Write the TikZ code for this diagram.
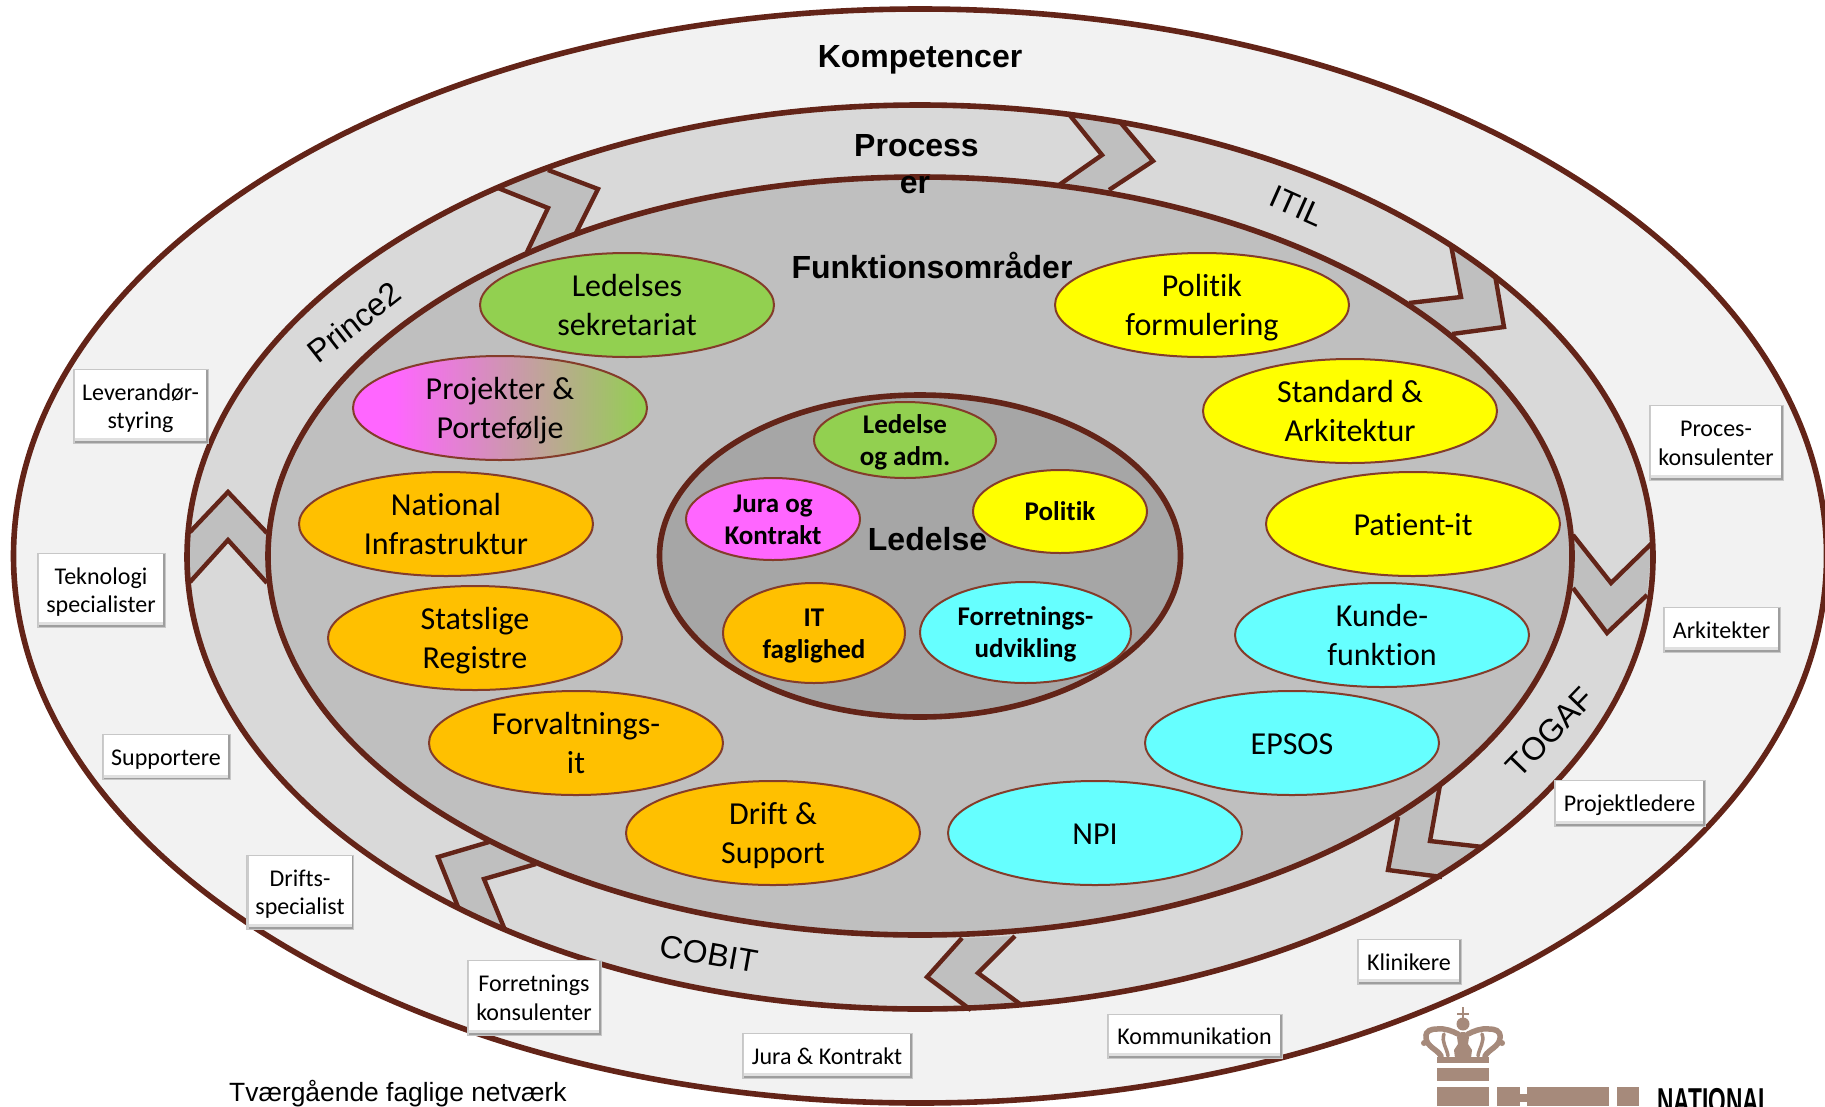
\documentclass[tikz,border=0pt]{standalone}
\usepackage{fontspec}
\usetikzlibrary{shapes.geometric}
\setmainfont{Carlito}[Ligatures=CommonOff]
\newfontfamily\arialfont{Liberation Sans}
\definecolor{brownline}{HTML}{632418}
\definecolor{thinline}{HTML}{843C2A}
\definecolor{ringA}{HTML}{F2F2F2}
\definecolor{ringB}{HTML}{D9D9D9}
\definecolor{ringC}{HTML}{BFBFBF}
\definecolor{ringD}{HTML}{A6A6A6}
\definecolor{cgreen}{HTML}{92D050}
\definecolor{corange}{HTML}{FFC000}
\definecolor{cyellow}{HTML}{FFFF00}
\definecolor{ccyan}{HTML}{66FFFF}
\definecolor{cmagenta}{HTML}{FF66FF}
\definecolor{logotan}{HTML}{A68A7B}
\pgfdeclarehorizontalshading{pgmix}{100bp}{color(0bp)=(cmagenta); color(32bp)=(cmagenta); color(75bp)=(cgreen); color(100bp)=(cgreen)}
% text set at fixed baselines round the node centre
\newcommand{\onel}[1]{\makebox[0pt]{\raisebox{\dimexpr-\boff\relax}[0pt][0pt]{#1}}}
\newcommand{\twol}[2]{\makebox[0pt]{\raisebox{\dimexpr-\boff+\lhalf\relax}[0pt][0pt]{#1}}\makebox[0pt]{\raisebox{\dimexpr-\boff-\lhalf\relax}[0pt][0pt]{#2}}}
\tikzset{
  bigring/.style={ellipse,inner sep=0,draw=brownline,line width=5.6pt},
  chevfill/.style={fill=ringC},
  chevline/.style={draw=brownline,line width=4.4pt,line join=miter},
  area/.style={ellipse,inner sep=0,draw=thinline,line width=2pt,minimum width=294pt,minimum height=104pt,font={\fontsize{32}{39}\selectfont\def\boff{11pt}\def\lhalf{19.75pt}}},
  core/.style={ellipse,inner sep=0,draw=thinline,line width=2pt,font={\bfseries\fontsize{27}{32}\selectfont\def\boff{9pt}\def\lhalf{16pt}}},
  headtext/.style={anchor=base,font=\arialfont\bfseries\fontsize{32}{38}\selectfont},
  ringtext/.style={font=\arialfont\fontsize{32}{38}\selectfont},
  rolebox/.style={rectangle,inner sep=0,fill=white,draw=black!22,line width=.8pt,font={\fontsize{24}{29}\selectfont\def\boff{8.5pt}\def\lhalf{14.25pt}},
    path picture={
      \fill[black!12] (path picture bounding box.south west) rectangle ([yshift=5pt]path picture bounding box.south east);
      \fill[black!38] (path picture bounding box.south west) rectangle ([yshift=2pt]path picture bounding box.south east);
      \fill[black!38] (path picture bounding box.south east) rectangle ([xshift=-2pt]path picture bounding box.north east);
      \fill[black!20] (path picture bounding box.south west) rectangle ([xshift=2pt]path picture bounding box.north west);
    }},
  logopart/.style={fill=logotan,draw=none},
  logostroke/.style={draw=logotan,line width=5pt,line cap=round}
}
% a chevron: two three-point polylines across the ring
\newcommand{\chevron}[6]{%
  \fill[chevfill] #1 -- #2 -- #3 -- #6 -- #5 -- #4 -- cycle;
  \draw[chevline] #1 -- #2 -- #3;
  \draw[chevline] #4 -- #5 -- #6;
}
\begin{document}
\begin{tikzpicture}[x=1pt,y=-1pt]
\useasboundingbox (0,0) rectangle (1825,1106);
\fill[white] (0,0) rectangle (1825,1106);

\node[bigring,fill=ringA,minimum width=1813pt,minimum height=1094pt] (kompetencer) at (920,556) {};
\node[bigring,fill=ringB,draw=none,minimum width=1466pt,minimum height=904pt] (processer) at (920,557) {};

\chevron{(1068,113)}{(1102,155)}{(1059,185)}{(1120,122)}{(1153,161)}{(1109,190)}
\chevron{(1451,245)}{(1461,297)}{(1409,303)}{(1495,275)}{(1504,327)}{(1452,334)}
\chevron{(1652,543)}{(1611,583)}{(1573,535)}{(1647,595)}{(1607,633)}{(1573,588)}
\chevron{(1440,785)}{(1430,841)}{(1483,847)}{(1398,817)}{(1388,870)}{(1442,877)}
\chevron{(1015,936)}{(978,973)}{(1020,1004)}{(962,938)}{(927,977)}{(971,1010)}
\chevron{(536,864)}{(484,879)}{(505,930)}{(489,842)}{(438,857)}{(458,907)}
\chevron{(190,532)}{(228,492)}{(267,533)}{(190,582)}{(228,540)}{(267,583)}
\chevron{(498,188)}{(548,208)}{(527,252)}{(548,170)}{(598,189)}{(575,235)}

\node[bigring,minimum width=1466pt,minimum height=904pt] (processring) at (920,557) {};
\node[bigring,fill=ringC,minimum width=1304pt,minimum height=758pt] (funktioner) at (920,556) {};
\node[bigring,fill=ringD,minimum width=521pt,minimum height=322pt] (ledelsering) at (920,556) {};

% functional areas
\node[area,fill=cgreen] (a1) at (627,305) {\twol{Ledelses}{sekretariat}};
\node[area,fill=cyellow] (a2) at (1202,305) {\twol{Politik}{formulering}};
\node[area,shade,shading=pgmix] (a3) at (500,408) {\twol{Projekter \&}{Portefølje}};
\node[area,fill=cyellow] (a4) at (1350,411) {\twol{Standard \&}{Arkitektur}};
\node[area,fill=corange] (a5) at (446,524) {\twol{National}{Infrastruktur}};
\node[area,fill=cyellow] (a6) at (1413,524) {\onel{Patient-it}};
\node[area,fill=corange] (a7) at (475,638) {\twol{Statslige}{Registre}};
\node[area,fill=ccyan] (a8) at (1382,635) {\twol{Kunde-}{funktion}};
\node[area,fill=corange] (a9) at (576,743) {\twol{Forvaltnings-}{it}};
\node[area,fill=ccyan] (a10) at (1292,743) {\onel{EPSOS}};
\node[area,fill=corange] (a11) at (773,833) {\twol{Drift \&}{Support}};
\node[area,fill=ccyan] (a12) at (1095,833) {\onel{NPI}};

% core
\node[headtext] (ledelsehead) at (927.5,550) {Ledelse};
\node[core,fill=cgreen,minimum width=182pt,minimum height=76pt] (c1) at (905,440) {\twol{Ledelse}{og adm.}};
\node[core,fill=cmagenta,minimum width=174pt,minimum height=82pt] (c2) at (773,519) {\twol{Jura og}{Kontrakt}};
\node[core,fill=cyellow,minimum width=174pt,minimum height=83pt] (c3) at (1060,511.5) {\onel{Politik}};
\node[core,fill=corange,minimum width=182pt,minimum height=100pt] (c4) at (814,633) {\twol{IT}{faglighed}};
\node[core,fill=ccyan,minimum width=211pt,minimum height=101pt] (c5) at (1025.5,632.5) {\twol{Forretnings-}{udvikling}};

% headings
\node[headtext] (h1) at (920,67) {Kompetencer};
\node[headtext] (h2a) at (916.5,156) {Process};
\node[headtext] (h2b) at (915,193) {er};
\node[headtext] (h3) at (932,278) {Funktionsområder};

% ring labels
\node[ringtext,rotate=-24] (itil) at (1297,206) {ITIL};
\node[ringtext,rotate=46] (togaf) at (1550,732) {TOGAF};
\node[ringtext,rotate=-10] (cobit) at (709,954) {COBIT};
\node[ringtext,rotate=38] (prince) at (354,322) {Prince2};

% role boxes
\node[rolebox,minimum width=135pt,minimum height=74pt] (b1) at (140.5,406) {\twol{Leverandør-}{styring}};
\node[rolebox,minimum width=128pt,minimum height=74pt] (b2) at (101,590) {\twol{Teknologi}{specialister}};
\node[rolebox,minimum width=128pt,minimum height=45pt] (b3) at (166,757) {\onel{Supportere}};
\node[rolebox,minimum width=107pt,minimum height=74pt] (b4) at (300,892) {\twol{Drifts-}{specialist}};
\node[rolebox,minimum width=134pt,minimum height=75pt] (b5) at (534,997.5) {\twol{Forretnings}{konsulenter}};
\node[rolebox,minimum width=170pt,minimum height=45pt] (b6) at (827,1055.5) {\onel{Jura \& Kontrakt}};
\node[rolebox,minimum width=175pt,minimum height=44pt] (b7) at (1194.5,1036) {\onel{Kommunikation}};
\node[rolebox,minimum width=104pt,minimum height=45pt] (b8) at (1409,961.5) {\onel{Klinikere}};
\node[rolebox,minimum width=151pt,minimum height=46pt] (b9) at (1629.5,803) {\onel{Projektledere}};
\node[rolebox,minimum width=117pt,minimum height=45pt] (b10) at (1721.5,629.5) {\onel{Arkitekter}};
\node[rolebox,minimum width=134pt,minimum height=75pt] (b11) at (1716,442.5) {\twol{Proces-}{konsulenter}};

% caption
\node[anchor=base west,inner sep=0,font=\arialfont\fontsize{26.4}{30}\selectfont] (caption) at (229,1101) {Tværgående faglige netværk};

% logo: crown
\fill[logopart] (1437,1057) rectangle (1489,1063);
\fill[logopart] (1463,1024) circle (6.5);
\draw[logostroke,line width=2.4pt,line cap=butt] (1463,1007) -- (1463,1019) (1457,1014) -- (1469,1014);
\fill[logopart] (1455,1058) -- (1454,1050) -- (1458,1044) -- (1457,1037) -- (1461,1032) -- (1465,1032) -- (1469,1037) -- (1468,1044) -- (1472,1050) -- (1471,1058) -- cycle;
\draw[logostroke,line width=5.5pt] (1441,1056) .. controls (1437,1049) and (1427,1047) .. (1426,1038) .. controls (1425,1030) and (1432,1029) .. (1437,1029) .. controls (1445,1028) and (1452,1031) .. (1458,1034);
\draw[logostroke,line width=5.5pt] (1485,1056) .. controls (1489,1049) and (1499,1047) .. (1500,1038) .. controls (1501,1030) and (1494,1029) .. (1489,1029) .. controls (1481,1028) and (1474,1031) .. (1468,1034);
\draw[logostroke,line width=3.5pt] (1448,1056) .. controls (1447,1048) and (1441,1042) .. (1444,1034);
\draw[logostroke,line width=3.5pt] (1478,1056) .. controls (1479,1048) and (1485,1042) .. (1482,1034);
\fill[logopart] (1424,1043) circle (3);
\fill[logopart] (1502,1043) circle (3);
% logo: building
\fill[logopart] (1437,1068) rectangle (1489,1081);
\fill[logopart] (1437,1087) rectangle (1489,1106);
\fill[logopart] (1497,1087) rectangle (1520,1106);
\fill[logopart] (1527,1087) rectangle (1609,1106);
\fill[logopart] (1520,1094) rectangle (1527,1102);
\fill[logopart] (1617,1087) rectangle (1639,1106);
\node[anchor=base west,inner sep=0,xscale=.63,transform shape,font=\arialfont\bfseries\fontsize{36}{40}\selectfont] (logotext) at (1657,1113) {NATIONAL};
\end{tikzpicture}
\end{document}
